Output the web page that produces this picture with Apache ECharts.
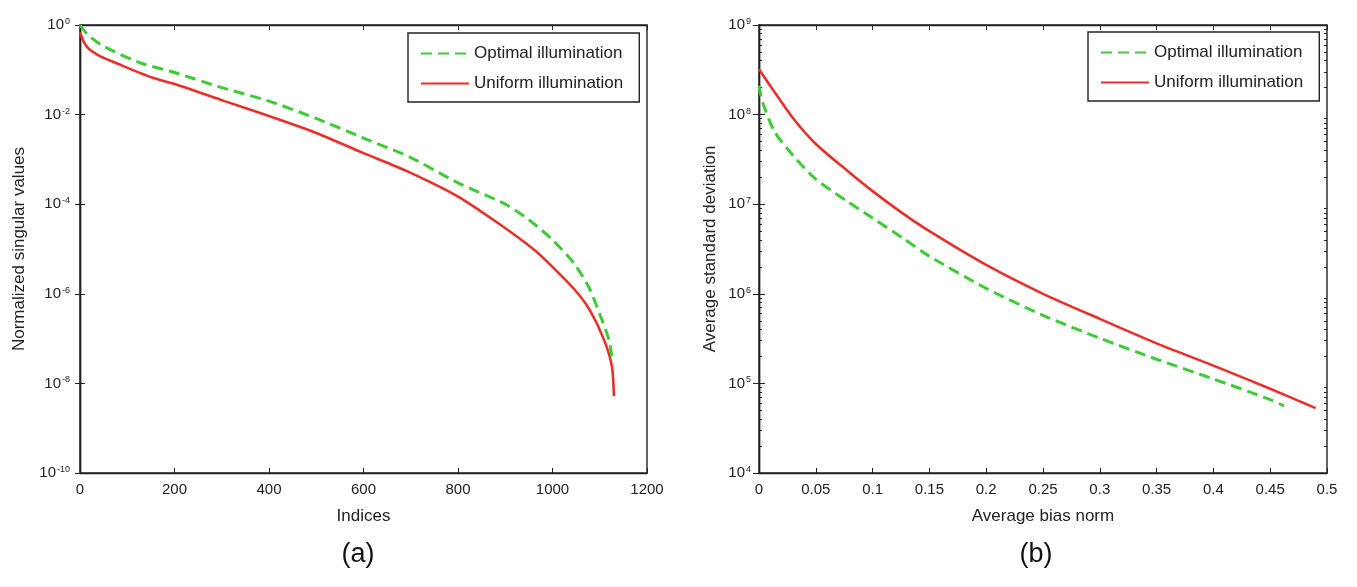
<!DOCTYPE html>
<html>
<head>
<meta charset="utf-8">
<script src="https://cdn.jsdelivr.net/npm/echarts@6/dist/echarts.min.js"></script>
<style>html,body{margin:0;padding:0;background:#fff;}#c{width:1357px;height:587px;}</style>
</head>
<body>
<div id="c"></div>
<script>
// (a) Normalized singular values vs index
const idxOpt = [0, 15, 43, 74, 130, 200, 300, 400, 500, 600, 700, 800, 900, 950, 1000, 1046, 1077, 1100, 1120, 1127];
const svOpt  = [1, 0.63, 0.37, 0.25, 0.14, 0.087, 0.04, 0.02, 0.0082, 0.003, 0.0011, 0.0003, 1.0e-4, 4.5e-5, 1.6e-5, 4.7e-6, 1.4e-6, 3.5e-7, 8.9e-8, 3.0e-8];
const idxUni = [0, 8, 19, 43, 74, 151, 200, 306, 400, 500, 600, 693, 800, 886, 963, 1000, 1048, 1079, 1110, 1126, 1130];
const svUni  = [0.69, 0.42, 0.29, 0.2, 0.145, 0.068, 0.048, 0.02, 0.0093, 0.0039, 0.00138, 5.4e-4, 1.48e-4, 3.7e-5, 9.3e-6, 4.0e-6, 1.2e-6, 4.3e-7, 8.9e-8, 2.3e-8, 5.2e-9];
// (b) Average standard deviation vs average bias norm
const biasOpt = [0, 0.003, 0.0135, 0.03, 0.05, 0.078, 0.1, 0.1265, 0.15, 0.2, 0.25, 0.3, 0.35, 0.4, 0.45, 0.462];
const stdOpt  = [2.1e8, 1.4e8, 6.5e7, 3.5e7, 1.9e7, 1.07e7, 7.0e6, 4.2e6, 2.63e6, 1.15e6, 5.75e5, 3.2e5, 1.86e5, 1.12e5, 6.6e4, 5.6e4];
const biasUni = [0, 0.0135, 0.03, 0.05, 0.078, 0.1, 0.1265, 0.15, 0.2, 0.25, 0.3, 0.35, 0.4, 0.45, 0.49];
const stdUni  = [3.2e8, 1.8e8, 9.1e7, 4.7e7, 2.35e7, 1.4e7, 7.9e6, 5.0e6, 2.1e6, 1.0e6, 5.25e5, 2.8e5, 1.58e5, 8.7e4, 5.3e4];

const seriesNames = ['Optimal illumination', 'Uniform illumination'];
const titlesA = ['Indices', 'Normalized singular values'];
const titlesB = ['Average bias norm', 'Average standard deviation'];
const panelLabels = ['(a)', '(b)'];

const zip = (xs, ys) => xs.map((x, i) => [x, ys[i]]);
const FONT = 'Liberation Sans, Arial, sans-serif';
const GREEN = '#3fcb37';
const RED = '#e8302b';
const INK = '#222';

const powLabel = v => {
  const e = Math.round(Math.log10(v));
  return '{b|10}{e|' + e + '}';
};
const powRich = {
  b: { fontSize: 15, lineHeight: 16, verticalAlign: 'middle', color: INK, fontFamily: FONT },
  e: { fontSize: 9, lineHeight: 10, padding: [0, 0, 24, 1], verticalAlign: 'top', color: INK, fontFamily: FONT }
};

const minorVals = [];
for (let d = 4; d < 9; d++) for (let m = 2; m <= 9; m++) minorVals.push(m * Math.pow(10, d));

const frameLine = { show: true, lineStyle: { color: INK, width: 1.4 } };
const noLine = { show: false };
const noLabel = { show: false };
const noTick = { show: false };
const tick = len => ({ show: true, inside: true, length: len, lineStyle: { color: INK, width: 1 } });
const nameStyle = { fontSize: 17, color: INK, fontFamily: FONT };

function lineSeries(name, data, xi, yi, dashed) {
  return {
    name: name, type: 'line', xAxisIndex: xi, yAxisIndex: yi,
    data: data, showSymbol: false, symbol: 'none',
    smooth: 0.25,
    lineStyle: dashed ? { color: GREEN, width: 3, type: [11, 6] } : { color: RED, width: 2.6 },
    itemStyle: { color: dashed ? GREEN : RED },
    z: dashed ? 3 : 2
  };
}

const legendBase = {
  orient: 'vertical', itemWidth: 48, itemHeight: 14, itemGap: 13,
  padding: [12, 16, 10, 12],
  borderColor: INK, borderWidth: 1.4, backgroundColor: '#fff',
  textStyle: { fontSize: 17, color: INK, fontFamily: FONT },
  itemStyle: { opacity: 0 },
  data: seriesNames,
  selectedMode: false
};

const xA = (grid, pos, min, max, iv, extra) => Object.assign({
  type: 'value', gridIndex: grid, position: pos, min: min, max: max, interval: iv,
  axisLine: frameLine, axisTick: tick(5), splitLine: { show: false }, axisLabel: noLabel
}, extra || {});
const yA = (grid, pos, min, max, iv, extra) => Object.assign({
  type: 'log', logBase: 10, gridIndex: grid, position: pos, min: min, max: max, interval: iv,
  axisLine: frameLine, axisTick: tick(6), splitLine: { show: false }, axisLabel: noLabel
}, extra || {});

const chart = echarts.init(document.getElementById('c'), null, { renderer: 'canvas' });
chart.setOption({
  animation: false,
  backgroundColor: '#fff',
  textStyle: { fontFamily: FONT },
  grid: [
    { left: 80, top: 25, width: 567, height: 448, show: true, borderColor: INK, borderWidth: 1.4 },
    { left: 759, top: 25, width: 568, height: 448, show: true, borderColor: INK, borderWidth: 1.4 }
  ],
  legend: [
    Object.assign({}, legendBase, { left: 408, top: 33 }),
    Object.assign({}, legendBase, { left: 1088, top: 32 })
  ],
  xAxis: [
    xA(0, 'bottom', 0, 1200, 200, {
      axisTick: noTick,
      axisLabel: { show: true, fontSize: 15, color: INK, margin: 9, fontFamily: FONT, formatter: v => String(v) },
      name: titlesA[0], nameLocation: 'middle', nameGap: 35, nameTextStyle: nameStyle }),
    xA(0, 'top', 0, 1200, 200),
    xA(1, 'bottom', 0, 0.5, 0.05, {
      axisTick: noTick,
      axisLabel: { show: true, fontSize: 15, color: INK, margin: 9, fontFamily: FONT, formatter: v => String(+v.toFixed(2)) },
      name: titlesB[0], nameLocation: 'middle', nameGap: 35, nameTextStyle: nameStyle }),
    xA(1, 'top', 0, 0.5, 0.05),
    xA(0, 'bottom', 0, 1200, 200, { axisLine: noLine }),
    xA(1, 'bottom', 0, 0.5, 0.05, { axisLine: noLine })
  ],
  yAxis: [
    yA(0, 'left', 1e-10, 1, 2, {
      axisTick: noTick,
      axisLabel: { show: true, formatter: powLabel, rich: powRich, margin: 10 },
      name: titlesA[1], nameLocation: 'middle', nameGap: 52, nameRotate: 90, nameTextStyle: nameStyle }),
    yA(0, 'right', 1e-10, 1, 2, { axisTick: tick(5) }),
    yA(1, 'left', 1e4, 1e9, 1, {
      axisTick: noTick,
      axisLabel: { show: true, formatter: powLabel, rich: powRich, margin: 8 },
      name: titlesB[1], nameLocation: 'middle', nameGap: 40, nameRotate: 90, nameTextStyle: nameStyle }),
    yA(1, 'right', 1e4, 1e9, 1),
    yA(1, 'left', 1e4, 1e9, null, { axisLine: noLine, axisTick: Object.assign(tick(3), { customValues: minorVals }) }),
    yA(1, 'right', 1e4, 1e9, null, { axisLine: noLine, axisTick: Object.assign(tick(3), { customValues: minorVals }) }),
    yA(0, 'left', 1e-10, 1, 2, { axisLine: noLine, axisTick: tick(5) }),
    yA(1, 'left', 1e4, 1e9, 1, { axisLine: noLine })
  ],
  series: [
    lineSeries(seriesNames[0], zip(idxOpt, svOpt), 0, 0, true),
    lineSeries(seriesNames[1], zip(idxUni, svUni), 0, 0, false),
    lineSeries(seriesNames[0], zip(biasOpt, stdOpt), 2, 2, true),
    lineSeries(seriesNames[1], zip(biasUni, stdUni), 2, 2, false)
  ],
  graphic: [
    { type: 'text', x: 358, y: 555, style: { text: panelLabels[0], fontSize: 27, fill: '#111', fontFamily: FONT, align: 'center', verticalAlign: 'middle' } },
    { type: 'text', x: 1036, y: 555, style: { text: panelLabels[1], fontSize: 27, fill: '#111', fontFamily: FONT, align: 'center', verticalAlign: 'middle' } }
  ]
});
</script>
</body>
</html>
